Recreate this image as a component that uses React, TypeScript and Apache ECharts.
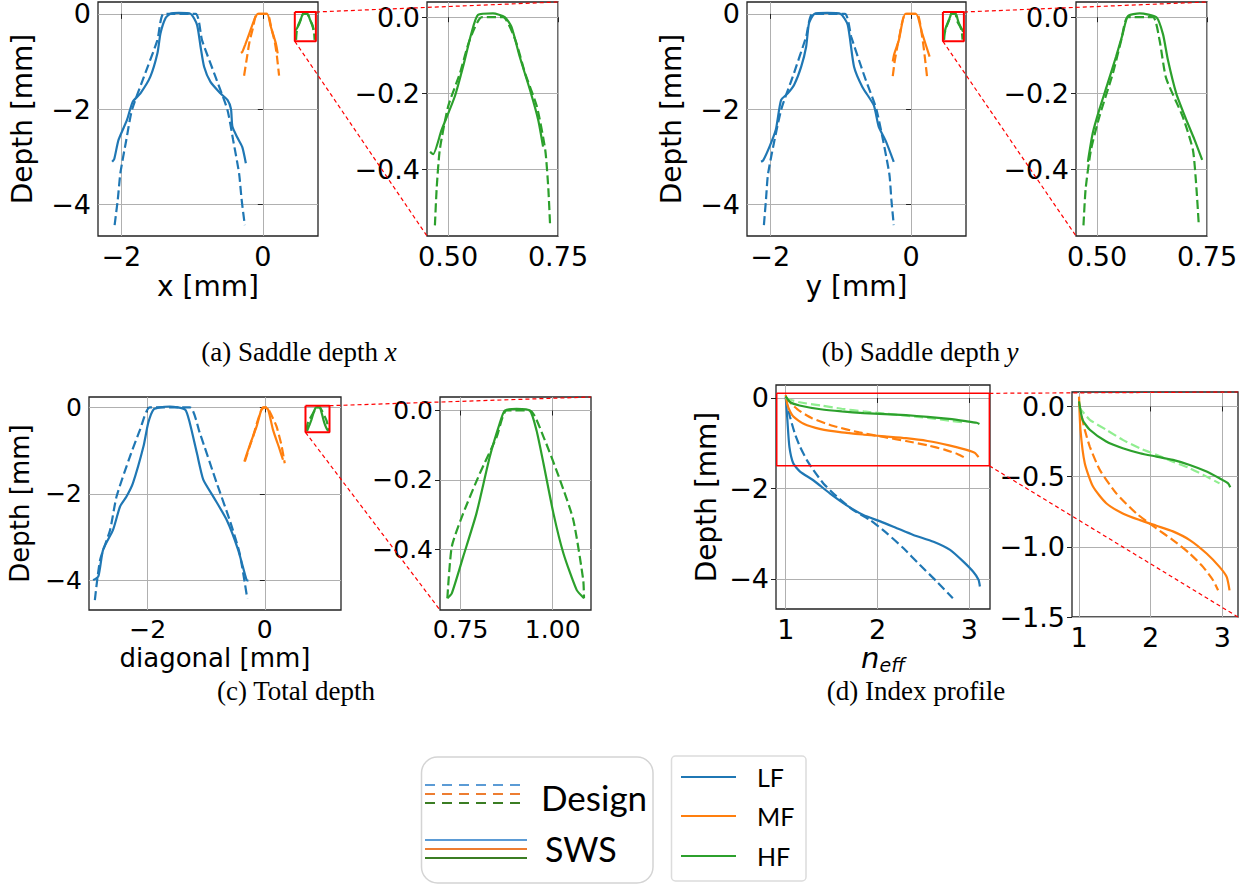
import React, { useEffect, useRef } from 'react';
import * as echarts from 'echarts';

type P = [number, number];

// ---------- colours ----------
const C_LF = '#1f77b4';
const C_MF = '#ff7f0e';
const C_HF = '#2ca02c';
const C_HF_LIGHT = '#90ee90';

// ---------- (a) Saddle depth x ----------
const aLFDesign: P[] = [[-2.095,-4.44],[-2.05,-3.9],[-2.014,-3.35],[-1.93,-2.65],[-1.85,-2.02],[-1.68,-1.32],[-1.49,-0.55],[-1.40,0],[-0.95,0],[-0.86,-0.55],[-0.67,-1.32],[-0.50,-2.02],[-0.42,-2.65],[-0.336,-3.35],[-0.30,-3.9],[-0.255,-4.44]];
const aLFSws: P[] = [[-2.13,-3.11],[-2.10,-3.05],[-2.04,-2.65],[-1.92,-2.23],[-1.84,-1.85],[-1.73,-1.67],[-1.59,-1.32],[-1.49,-0.83],[-1.447,-0.41],[-1.376,-0.09],[-1.31,0],[-1.19,0.02],[-1.02,0],[-0.93,-0.23],[-0.88,-0.69],[-0.83,-1.11],[-0.74,-1.43],[-0.60,-1.67],[-0.50,-1.81],[-0.45,-2.0],[-0.43,-2.37],[-0.36,-2.6],[-0.29,-2.8],[-0.24,-3.14]];
const aMFDesign: P[] = [[-0.265,-1.30],[-0.23,-0.97],[-0.19,-0.6],[-0.14,-0.3],[-0.085,0],[0.066,0],[0.12,-0.3],[0.17,-0.6],[0.2,-0.9],[0.23,-1.30]];
const aMFSws: P[] = [[-0.31,-0.82],[-0.29,-0.80],[-0.25,-0.65],[-0.19,-0.41],[-0.12,-0.12],[-0.07,0],[0.06,0],[0.113,-0.27],[0.184,-0.62],[0.21,-0.83]];
const aHFDesign: P[] = [[0.470,-0.547],[0.474,-0.45],[0.481,-0.349],[0.50,-0.235],[0.527,-0.147],[0.549,-0.06],[0.577,0],[0.625,0],[0.653,-0.06],[0.675,-0.147],[0.702,-0.235],[0.721,-0.349],[0.728,-0.45],[0.732,-0.547]];
const aHFSws: P[] = [[0.459,-0.354],[0.466,-0.36],[0.485,-0.297],[0.515,-0.209],[0.534,-0.13],[0.553,-0.042],[0.568,0.006],[0.602,0.01],[0.629,0],[0.644,-0.025],[0.663,-0.104],[0.686,-0.19],[0.705,-0.27],[0.716,-0.34]];

// ---------- (b) Saddle depth y ----------
const bLFDesign: P[] = [[-2.09,-4.44],[-2.06,-3.9],[-2.03,-3.35],[-1.846,-2.02],[-1.68,-1.32],[-1.49,-0.48],[-1.40,0],[-0.94,0],[-0.85,-0.48],[-0.66,-1.32],[-0.49,-2.02],[-0.31,-3.35],[-0.28,-3.9],[-0.246,-4.44]];
const bLFSws: P[] = [[-2.13,-3.11],[-2.10,-3.08],[-2.01,-2.79],[-1.92,-2.43],[-1.846,-1.81],[-1.75,-1.67],[-1.66,-1.49],[-1.56,-1.11],[-1.49,-0.69],[-1.45,-0.2],[-1.375,0],[-1.19,0.02],[-1.0,0],[-0.90,-0.23],[-0.81,-1.11],[-0.69,-1.54],[-0.53,-1.92],[-0.46,-2.37],[-0.36,-2.67],[-0.246,-3.11]];
const bMFDesign: P[] = [[-0.26,-1.31],[-0.23,-0.97],[-0.17,-0.5],[-0.08,0],[0.085,0],[0.16,-0.5],[0.2,-0.97],[0.226,-1.31]];
const bMFSws: P[] = [[-0.26,-1.0],[-0.24,-0.85],[-0.175,-0.56],[-0.08,0],[0.07,0],[0.155,-0.4],[0.263,-0.9]];
const bHFDesign: P[] = [[0.469,-0.547],[0.474,-0.45],[0.486,-0.349],[0.505,-0.262],[0.536,-0.147],[0.555,-0.06],[0.570,0],[0.627,0],[0.642,-0.06],[0.657,-0.16],[0.695,-0.262],[0.718,-0.349],[0.726,-0.45],[0.731,-0.54]];
const bHFSws: P[] = [[0.479,-0.38],[0.49,-0.305],[0.505,-0.243],[0.524,-0.174],[0.543,-0.104],[0.558,-0.045],[0.57,0.003],[0.597,0.01],[0.635,0],[0.65,-0.045],[0.661,-0.112],[0.68,-0.2],[0.703,-0.27],[0.722,-0.323],[0.739,-0.375]];

// ---------- (c) Total depth ----------
const cLFDesign: P[] = [[-2.90,-4.45],[-2.81,-3.52],[-2.64,-2.83],[-2.53,-2.06],[-2.30,-1.13],[-2.13,-0.52],[-1.96,0],[-1.28,0],[-1.11,-0.59],[-0.82,-1.75],[-0.60,-2.6],[-0.43,-3.37],[-0.30,-4.41]];
const cLFSws: P[] = [[-2.93,-3.99],[-2.84,-3.9],[-2.76,-3.29],[-2.59,-2.83],[-2.47,-2.29],[-2.36,-2.06],[-2.25,-1.75],[-2.07,-0.9],[-1.99,-0.36],[-1.90,-0.05],[-1.79,0],[-1.62,0.02],[-1.36,-0.05],[-1.28,-0.36],[-1.16,-1.05],[-1.05,-1.67],[-0.88,-2.06],[-0.65,-2.6],[-0.455,-3.29],[-0.31,-3.99],[-0.28,-4.0]];
const cMFDesign: P[] = [[-0.34,-1.25],[-0.27,-0.95],[-0.2,-0.67],[-0.12,-0.3],[-0.03,0],[0.03,0],[0.12,-0.2],[0.2,-0.44],[0.28,-0.85],[0.34,-1.29]];
const cMFSws: P[] = [[-0.35,-1.25],[-0.25,-0.85],[-0.14,-0.44],[-0.057,-0.05],[0,0],[0.057,-0.05],[0.14,-0.52],[0.256,-0.98],[0.31,-1.21]];
const cHFDesign: P[] = [[0.714,-0.542],[0.726,-0.393],[0.757,-0.297],[0.802,-0.182],[0.848,-0.076],[0.875,0],[0.938,0],[0.975,-0.076],[1.02,-0.201],[1.056,-0.316],[1.083,-0.49],[1.085,-0.542]];
const cHFSws: P[] = [[0.714,-0.542],[0.726,-0.528],[0.757,-0.422],[0.793,-0.297],[0.829,-0.134],[0.856,-0.038],[0.87,0],[0.902,0.005],[0.938,0],[0.956,-0.057],[0.975,-0.153],[1.002,-0.297],[1.029,-0.412],[1.065,-0.518],[1.085,-0.542]];

// ---------- (d) Index profile ----------
const dLFSws: P[] = [[1.0,0.03],[1.018,-0.49],[1.04,-1.08],[1.083,-1.45],[1.156,-1.63],[1.30,-1.82],[1.48,-2.11],[1.66,-2.37],[1.845,-2.59],[2.03,-2.73],[2.21,-2.88],[2.39,-3.03],[2.61,-3.18],[2.79,-3.36],[2.935,-3.62],[3.04,-3.84],[3.10,-4.02],[3.115,-4.17]];
const dLFDesign: P[] = [[1.0,0],[1.047,-0.42],[1.10,-0.79],[1.156,-1.08],[1.229,-1.37],[1.30,-1.59],[1.41,-1.89],[1.556,-2.18],[1.736,-2.48],[1.918,-2.70],[2.10,-2.99],[2.28,-3.32],[2.46,-3.69],[2.645,-4.06],[2.82,-4.43]];
const dMFSws: P[] = [[1.0,0.07],[1.02,-0.166],[1.08,-0.404],[1.195,-0.571],[1.38,-0.69],[1.61,-0.762],[1.85,-0.81],[2.08,-0.85],[2.31,-0.89],[2.545,-0.952],[2.78,-1.048],[2.96,-1.143],[3.06,-1.214],[3.10,-1.31]];
const dMFDesign: P[] = [[1.0,0.02],[1.05,-0.1],[1.08,-0.166],[1.15,-0.286],[1.29,-0.452],[1.52,-0.619],[1.80,-0.762],[2.08,-0.869],[2.31,-0.952],[2.545,-1.048],[2.73,-1.143],[2.87,-1.238],[2.94,-1.31]];
const dHFSws: P[] = [[1.0,0.036],[1.05,-0.095],[1.15,-0.166],[1.38,-0.25],[1.61,-0.298],[1.85,-0.333],[2.08,-0.357],[2.31,-0.381],[2.545,-0.417],[2.78,-0.464],[2.96,-0.512],[3.08,-0.548],[3.11,-0.576]];
const dHFDesign: P[] = [[1.0,0.0],[1.03,-0.024],[1.15,-0.095],[1.38,-0.166],[1.61,-0.238],[1.85,-0.298],[2.08,-0.345],[2.31,-0.393],[2.545,-0.44],[2.78,-0.5],[2.96,-0.548]];

// ---------- axis ranges & ticks ----------
const aMainX = { min: -2.33, max: 0.78, ticks: [-2, 0], dec: 0 };
const aMainY = { min: -4.67, max: 0.25, ticks: [-4, -2, 0], dec: 0 };
const aInsX = { min: 0.452, max: 0.75, ticks: [0.5, 0.75], dec: 2 };
const aInsY = { min: -0.575, max: 0.04, ticks: [-0.4, -0.2, 0], dec: 1 };
const cMainX = { min: -3.0, max: 1.3, ticks: [-2, 0], dec: 0 };
const cMainY = { min: -4.68, max: 0.24, ticks: [-4, -2, 0], dec: 0 };
const cInsX = { min: 0.694, max: 1.104, ticks: [0.75, 1.0], dec: 2 };
const cInsY = { min: -0.576, max: 0.039, ticks: [-0.4, -0.2, 0], dec: 1 };
const dMainX = { min: 0.894, max: 3.225, ticks: [1, 2, 3], dec: 0 };
const dMainY = { min: -4.668, max: 0.287, ticks: [-4, -2, 0], dec: 0 };
const dInsX = { min: 0.902, max: 3.218, ticks: [1, 2, 3], dec: 0 };
const dInsY = { min: -1.5, max: 0.103, ticks: [-1.5, -1.0, -0.5, 0], dec: 1 };

// ---------- layout ----------
const GRIDS = [
  { left: 98, top: 2, width: 220, height: 234 },
  { left: 427, top: 2, width: 131, height: 234 },
  { left: 747, top: 2, width: 219, height: 234 },
  { left: 1076, top: 2, width: 131, height: 234 },
  { left: 89, top: 397, width: 252, height: 213 },
  { left: 440, top: 397, width: 151, height: 213 },
  { left: 776, top: 385, width: 214, height: 224 },
  { left: 1072, top: 392, width: 166, height: 225 },
];
const GRID_FS = [27, 27, 27, 27, 25, 25, 27, 27];

const F = 'DejaVu Sans';

const fmt = (dec: number) => (v: number) => {
  const s = Math.abs(v) < 1e-9 ? (0).toFixed(dec) : v.toFixed(dec);
  return s.replace('-', '\u2212');
};

type Ax = { min: number; max: number; ticks: number[]; dec: number };

const mkAxis = (gi: number, ax: Ax, isX: boolean, name?: string, nameGap?: number, nameStyle?: any) => {
  const fs = GRID_FS[gi];
  return {
    type: 'value',
    gridIndex: gi,
    min: ax.min,
    max: ax.max,
    position: isX ? 'bottom' : 'left',
    axisLine: { show: false },
    axisTick: { show: true, inside: false, length: 5, customValues: ax.ticks, lineStyle: { color: '#222', width: 1 } },
    axisLabel: {
      customValues: ax.ticks,
      formatter: fmt(ax.dec),
      color: '#000',
      fontSize: fs,
      fontFamily: F,
      margin: 7,
      lineHeight: isX ? fs : Math.round(fs * 0.8),
      showMinLabel: true,
      showMaxLabel: true,
    },
    splitLine: { show: true, lineStyle: { color: '#b0b0b0', width: 1 } },
    name: name || '',
    nameLocation: 'middle',
    nameGap: nameGap || 0,
    nameRotate: isX ? 0 : 90,
    nameTextStyle: nameStyle || { fontSize: isX || gi !== 4 ? 28 : 26, fontFamily: F, color: '#000' },
  };
};

const DASH = [9, 4];
const ln = (gi: number, data: P[], color: string, dashed: boolean, z = 3) => ({
  type: 'line',
  xAxisIndex: gi,
  yAxisIndex: gi,
  data,
  showSymbol: false,
  symbol: 'none',
  smooth: 0.2,
  silent: true,
  z,
  lineStyle: { color, width: 2.2, type: dashed ? DASH : 'solid' },
});

const rectOf = (x: Ax, y: Ax): P[] => [
  [x.min, y.max], [x.max, y.max], [x.max, y.min], [x.min, y.min], [x.min, y.max],
];
const rectSeries = (gi: number, x: Ax, y: Ax, w = 2) => ({
  type: 'line', xAxisIndex: gi, yAxisIndex: gi, data: rectOf(x, y), showSymbol: false, symbol: 'none',
  silent: true, z: 5, lineStyle: { color: '#ff0000', width: w },
});

export default function App() {
  const ref = useRef<HTMLDivElement>(null);
  useEffect(() => {
    if (!ref.current) return;
    const chart = echarts.init(ref.current, undefined, { renderer: 'svg' });
    const xAxes = [
      mkAxis(0, aMainX, true, 'x [mm]', 36),
      mkAxis(1, aInsX, true),
      mkAxis(2, aMainX, true, 'y [mm]', 36),
      mkAxis(3, aInsX, true),
      mkAxis(4, cMainX, true, 'diagonal [mm]', 35, { fontSize: 26, fontFamily: F, color: '#000' }),
      mkAxis(5, cInsX, true),
      mkAxis(6, dMainX, true, '{n|n}{s|eff}', 31, {
        rich: {
          n: { fontSize: 29, fontFamily: F, fontStyle: 'italic', color: '#000' },
          s: { fontSize: 19, fontFamily: F, fontStyle: 'italic', color: '#000', padding: [13, 0, 0, 0] },
        },
      }),
      mkAxis(7, dInsX, true),
    ];
    const yAxes = [
      mkAxis(0, aMainY, false, 'Depth [mm]', 62),
      mkAxis(1, aInsY, false),
      mkAxis(2, aMainY, false, 'Depth [mm]', 62),
      mkAxis(3, aInsY, false),
      mkAxis(4, cMainY, false, 'Depth [mm]', 56),
      mkAxis(5, cInsY, false),
      mkAxis(6, dMainY, false, 'Depth [mm]', 56),
      mkAxis(7, dInsY, false),
    ];
    const series: any[] = [
      // (a)
      ln(0, aLFDesign, C_LF, true), ln(0, aLFSws, C_LF, false),
      ln(0, aMFDesign, C_MF, true), ln(0, aMFSws, C_MF, false),
      ln(0, aHFDesign, C_HF, true), ln(0, aHFSws, C_HF, false),
      rectSeries(0, aInsX, aInsY),
      ln(1, aHFDesign, C_HF, true), ln(1, aHFSws, C_HF, false),
      // (b)
      ln(2, bLFDesign, C_LF, true), ln(2, bLFSws, C_LF, false),
      ln(2, bMFDesign, C_MF, true), ln(2, bMFSws, C_MF, false),
      ln(2, bHFDesign, C_HF, true), ln(2, bHFSws, C_HF, false),
      rectSeries(2, aInsX, aInsY),
      ln(3, bHFDesign, C_HF, true), ln(3, bHFSws, C_HF, false),
      // (c)
      ln(4, cLFDesign, C_LF, true), ln(4, cLFSws, C_LF, false),
      ln(4, cMFDesign, C_MF, true), ln(4, cMFSws, C_MF, false),
      ln(4, cHFDesign, C_HF, true), ln(4, cHFSws, C_HF, false),
      rectSeries(4, cInsX, cInsY),
      ln(5, cHFDesign, C_HF, true), ln(5, cHFSws, C_HF, false),
      // (d)
      ln(6, dLFDesign, C_LF, true), ln(6, dLFSws, C_LF, false),
      ln(6, dMFDesign, C_MF, true), ln(6, dMFSws, C_MF, false),
      ln(6, dHFDesign, C_HF_LIGHT, true), ln(6, dHFSws, C_HF, false),
      rectSeries(6, dInsX, dInsY, 1.5),
      ln(7, dMFDesign, C_MF, true), ln(7, dMFSws, C_MF, false),
      ln(7, dHFDesign, C_HF_LIGHT, true), ln(7, dHFSws, C_HF, false),
    ];
    chart.setOption({
      animation: false,
      backgroundColor: '#ffffff',
      grid: GRIDS.map((g) => ({ ...g, show: true, borderColor: '#222', borderWidth: 1.3, backgroundColor: 'transparent', containLabel: false })),
      xAxis: xAxes,
      yAxis: yAxes,
      series,
    });

    const px = (gi: number, v: P) => chart.convertToPixel({ gridIndex: gi } as any, v) as unknown as number[];
    const conn = (a: number[], b: number[]) => ({
      type: 'line', z: 100, silent: true,
      shape: { x1: a[0], y1: a[1], x2: b[0], y2: b[1] },
      style: { stroke: '#ff0000', lineWidth: 1.2, lineDash: [4, 3] },
    });
    const connectors: any[] = [];
    [[0, 1], [2, 3]].forEach(([m, i]) => {
      connectors.push(conn(px(m, [aInsX.max, aInsY.max]), px(i, [aInsX.max, aInsY.max])));
      connectors.push(conn(px(m, [aInsX.min, aInsY.min]), px(i, [aInsX.min, aInsY.min])));
    });
    connectors.push(conn(px(4, [cInsX.max, cInsY.max]), px(5, [cInsX.max, cInsY.max])));
    connectors.push(conn(px(4, [cInsX.min, cInsY.min]), px(5, [cInsX.min, cInsY.min])));
    connectors.push(conn(px(6, [dInsX.max, dInsY.max]), px(7, [dInsX.max, dInsY.max])));
    connectors.push(conn(px(6, [dInsX.max, dInsY.min]), px(7, [dInsX.max, dInsY.min])));

    const SERIF = 'Liberation Serif';
    const CAP_FS = 27;
    const caption = (x: number, y: number, label: string, math?: string) => ({
      type: 'text', x, y, silent: true,
      style: {
        text: math ? `{r|${label}}{i|${math}}` : `{r|${label}}`,
        rich: {
          r: { fontFamily: SERIF, fontSize: CAP_FS, fill: '#000' },
          i: { fontFamily: SERIF, fontSize: CAP_FS, fontStyle: 'italic', fill: '#000' },
        },
        align: 'center', verticalAlign: 'middle',
      },
    });

    const LEG_F = 'Lato';
    const legLine = (x1: number, x2: number, y: number, color: string, dashed: boolean) => ({
      type: 'line', silent: true,
      shape: { x1, y1: y, x2, y2: y },
      style: { stroke: color, lineWidth: 2, lineDash: dashed ? [10, 7] : null },
    });
    const legText = (x: number, y: number, t: string, fs: number) => ({
      type: 'text', x, y, silent: true,
      style: { text: t, fontFamily: LEG_F, fontSize: fs, fill: '#000', align: 'left', verticalAlign: 'middle' },
    });

    const legend: any[] = [
      { type: 'rect', silent: true, shape: { x: 421.5, y: 757, width: 231.5, height: 126, r: 16 }, style: { fill: '#fff', stroke: '#d4d4d4', lineWidth: 1.5 } },
      { type: 'rect', silent: true, shape: { x: 671.5, y: 756, width: 134.5, height: 125, r: 4 }, style: { fill: '#fff', stroke: '#dcdcdc', lineWidth: 1.5 } },
      legLine(425, 527, 785, '#5b9bd5', true),
      legLine(425, 527, 794, '#ed7d31', true),
      legLine(425, 527, 803, '#3b7d23', true),
      legLine(425, 527, 840, '#5b9bd5', false),
      legLine(425, 527, 849, '#ed7d31', false),
      legLine(425, 527, 858, '#3b7d23', false),
      legText(541, 797, 'Design', 35),
      legText(545, 848, 'SWS', 34),
      legLine(681, 736, 777, C_LF, false),
      legLine(681, 736, 816, C_MF, false),
      legLine(681, 736, 856, C_HF, false),
      legText(757, 777, 'LF', 25),
      legText(757, 816, 'MF', 25),
      legText(757, 856, 'HF', 25),
    ];

    chart.setOption({
      graphic: [
        caption(299, 352, '(a) Saddle depth ', 'x'),
        caption(920, 352, '(b) Saddle depth ', 'y'),
        caption(296, 691, '(c) Total depth'),
        caption(916, 691, '(d) Index profile'),
        ...legend,
        ...connectors,
      ],
    });

    return () => chart.dispose();
  }, []);
  return <div ref={ref} style={{ position: 'absolute', left: 0, top: 0, width: 1250, height: 886 }} />;
}
